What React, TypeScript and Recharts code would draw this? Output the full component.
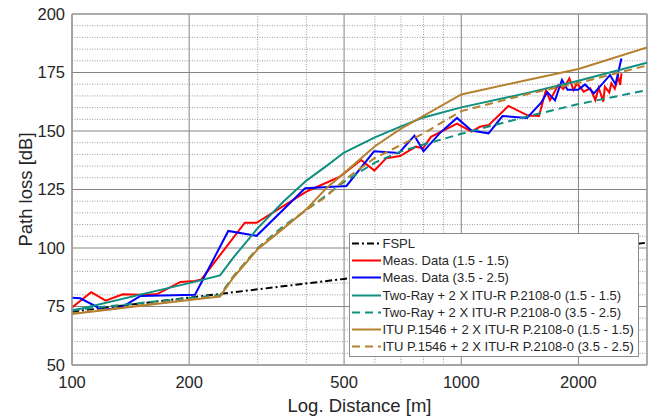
import React from 'react';
import { LineChart, Line, XAxis, YAxis, CartesianGrid, ReferenceLine, Legend, Label } from 'recharts';

// ---------- data (distance [m], path loss [dB]) ----------
const fsplDist = [100, 200, 500, 1000, 2000, 3000];
const fsplLoss = [72.8, 78.8, 86.8, 92.8, 98.8, 102.3];

const measADist = [100, 112, 122, 135, 150, 165, 190, 207, 215, 278, 298, 400, 434, 488, 553, 598, 641, 696, 765, 797, 836, 975, 1062, 1117, 1178, 1322, 1484, 1584, 1650, 1690, 1775, 1829, 1895, 1943, 1983, 2063, 2145, 2210, 2254, 2316, 2338, 2400, 2430, 2480, 2530, 2560, 2580];
const measALoss = [74.6, 81.1, 77.5, 80.2, 80.0, 80.2, 85.5, 85.9, 86.6, 110.8, 110.8, 124.1, 126.7, 130.5, 137.6, 133.1, 138.3, 139.3, 143.3, 142.6, 147.5, 153.2, 149.7, 151.8, 152.6, 160.7, 156.6, 156.4, 167.5, 163.2, 169.7, 168.0, 172.5, 167.5, 170.4, 166.8, 168.2, 163.2, 168.5, 162.5, 168.9, 166.5, 170.4, 168.0, 173.2, 169.7, 174.6];

const measBDist = [100, 105, 120, 134, 150, 207, 252, 298, 397, 507, 597, 692, 758, 800, 882, 975, 1062, 1175, 1276, 1475, 1602, 1663, 1741, 1814, 1874, 1998, 2079, 2192, 2410, 2490, 2579];
const measBLoss = [78.7, 78.5, 73.5, 74.6, 79.5, 80.0, 107.3, 105.2, 125.5, 126.5, 141.3, 140.6, 148.0, 141.3, 149.2, 155.6, 150.2, 149.0, 156.4, 155.6, 162.0, 166.6, 163.1, 171.8, 167.6, 167.6, 169.9, 166.1, 173.9, 170.0, 181.0];

const modelDist = [100, 200, 240, 260, 300, 350, 400, 450, 500, 600, 700, 800, 1000, 1500, 2000, 3000];
const twoRayALoss = [73.2, 85.0, 88.3, 96.0, 108.5, 120.0, 128.8, 135.0, 140.8, 147.3, 152.0, 155.8, 160.1, 166.5, 171.5, 179.2];
const twoRayBLoss = [73.5, 78.6, 79.9, 88.0, 100.0, 109.5, 116.2, 122.5, 128.3, 136.5, 141.3, 144.2, 148.8, 156.5, 161.5, 167.5];
const ituALoss = [71.8, 77.8, 79.3, 87.5, 99.5, 108.5, 116.5, 125.5, 132.0, 143.5, 151.0, 156.5, 165.6, 172.0, 176.5, 185.7];
const ituBLoss = [72.0, 78.0, 79.5, 87.8, 99.8, 108.8, 116.3, 122.0, 129.0, 138.5, 144.0, 149.0, 158.5, 166.0, 170.5, 178.0];

const xTicks = [100, 200, 500, 1000, 2000];
const xMinor = [300, 400, 600, 700, 800, 900];
const yTicks = [50, 75, 100, 125, 150, 175, 200];
const yMinor = [55, 60, 65, 70, 80, 85, 90, 95, 105, 110, 115, 120, 130, 135, 140, 145, 155, 160, 165, 170, 180, 185, 190, 195];

const seriesNames = [
  'FSPL',
  'Meas. Data (1.5 - 1.5)',
  'Meas. Data (3.5 - 2.5)',
  'Two-Ray + 2 X ITU-R P.2108-0 (1.5 - 1.5)',
  'Two-Ray + 2 X ITU-R P.2108-0 (3.5 - 2.5)',
  'ITU P.1546 + 2 X ITU-R P.2108-0 (1.5 - 1.5)',
  'ITU P.1546 + 2 X ITU-R P.2108-0 (3.5 - 2.5)',
];

// ---------- styles ----------
const FONT = '"Liberation Sans", Arial, Helvetica, sans-serif';
const TEAL = '#0E8F80';
const BROWN = '#B5812F';
const styles = [
  { color: '#000000', dash: '7 3 2 3', width: 2 },
  { color: '#FF0000', dash: undefined, width: 2 },
  { color: '#0000FF', dash: undefined, width: 2 },
  { color: TEAL, dash: undefined, width: 2 },
  { color: TEAL, dash: '8 5', width: 2 },
  { color: BROWN, dash: undefined, width: 2 },
  { color: BROWN, dash: '8 5', width: 2 },
];

const zip = (d: number[], v: number[]) => d.map((x, i) => ({ d: x, v: v[i] }));

const seriesData = [
  zip(fsplDist, fsplLoss),
  zip(measADist, measALoss),
  zip(measBDist, measBLoss),
  zip(modelDist, twoRayALoss),
  zip(modelDist, twoRayBLoss),
  zip(modelDist, ituALoss),
  zip(modelDist, ituBLoss),
];

const renderLegend = () => (
  <div
    style={{
      background: '#ffffff',
      border: '1px solid #8c8c8c',
      padding: '1px 4px 1px 1px',
      fontFamily: FONT,
      fontSize: 13,
      color: '#262626',
      lineHeight: '17.2px',
    }}
  >
    {seriesNames.map((n, i) => (
      <div key={n} style={{ display: 'flex', alignItems: 'center', height: 17.2, whiteSpace: 'nowrap' }}>
        <svg width={31} height={17} style={{ display: 'block' }}>
          <line
            x1={1}
            y1={8.5}
            x2={30}
            y2={8.5}
            stroke={styles[i].color}
            strokeWidth={styles[i].width}
            strokeDasharray={styles[i].dash}
          />
        </svg>
        <span style={{ marginLeft: 1 }}>{n}</span>
      </div>
    ))}
  </div>
);

const YLabel = (props: any) => {
  const vb = props.viewBox || {};
  const cx = 25;
  const cy = (vb.y || 0) + (vb.height || 0) / 2;
  return (
    <text
      x={cx}
      y={cy}
      transform={`rotate(-90, ${cx}, ${cy})`}
      textAnchor="middle"
      dominantBaseline="central"
      fontSize={18.5}
      fontFamily={FONT}
      fill="#262626"
    >
      Path loss [dB]
    </text>
  );
};

export default function App() {
  return (
    <div style={{ margin: '-8px 0 0 -8px', width: 658, height: 418 }}>
      <LineChart
        width={658}
        height={418}
        margin={{ top: 14, right: 11, bottom: 0, left: 0 }}
        style={{ fontFamily: FONT }}
      >
        <CartesianGrid stroke="#858585" strokeWidth={1} />
        {xMinor.map((v) => (
          <ReferenceLine key={'xm' + v} x={v} stroke="#9c9c9c" strokeWidth={1} strokeDasharray="1 1.5" />
        ))}
        {yMinor.map((v) => (
          <ReferenceLine key={'ym' + v} y={v} stroke="#9c9c9c" strokeWidth={1} strokeDasharray="1 1.5" />
        ))}
        <XAxis
          dataKey="d"
          type="number"
          scale="log"
          domain={[100, 3000]}
          allowDataOverflow
          ticks={xTicks}
          interval={0}
          height={53}
          tickLine={false}
          tickMargin={5}
          axisLine={{ stroke: '#9a9a9a', strokeWidth: 1.5 }}
          tick={{ fontSize: 16.5, fill: '#262626', fontFamily: FONT }}
        >
          <Label
            value="Log. Distance [m]"
            position="insideBottom"
            offset={6.5}
            style={{ fontSize: 18.5, fill: '#262626', fontFamily: FONT }}
          />
        </XAxis>
        <YAxis
          dataKey="v"
          type="number"
          domain={[50, 200]}
          allowDataOverflow
          ticks={yTicks}
          interval={0}
          width={72}
          tickLine={false}
          tickMargin={1}
          axisLine={{ stroke: '#9a9a9a', strokeWidth: 1.5 }}
          tick={{ fontSize: 16.5, fill: '#262626', fontFamily: FONT }}
        >
          <Label content={YLabel} />
        </YAxis>
        <ReferenceLine y={200} stroke="#a5a5a5" strokeWidth={1.5} />
        <ReferenceLine x={3000} stroke="#a5a5a5" strokeWidth={1.5} />
        {seriesData.map((data, i) => (
          <Line
            key={seriesNames[i]}
            data={data}
            dataKey="v"
            name={seriesNames[i]}
            type="linear"
            stroke={styles[i].color}
            strokeWidth={styles[i].width}
            strokeDasharray={styles[i].dash}
            dot={false}
            activeDot={false}
            isAnimationActive={false}
          />
        ))}
        <Legend
          layout="vertical"
          align="center"
          verticalAlign="middle"
          content={renderLegend}
          wrapperStyle={{ left: 348.5, top: 233, width: 'auto' }}
        />
      </LineChart>
    </div>
  );
}
